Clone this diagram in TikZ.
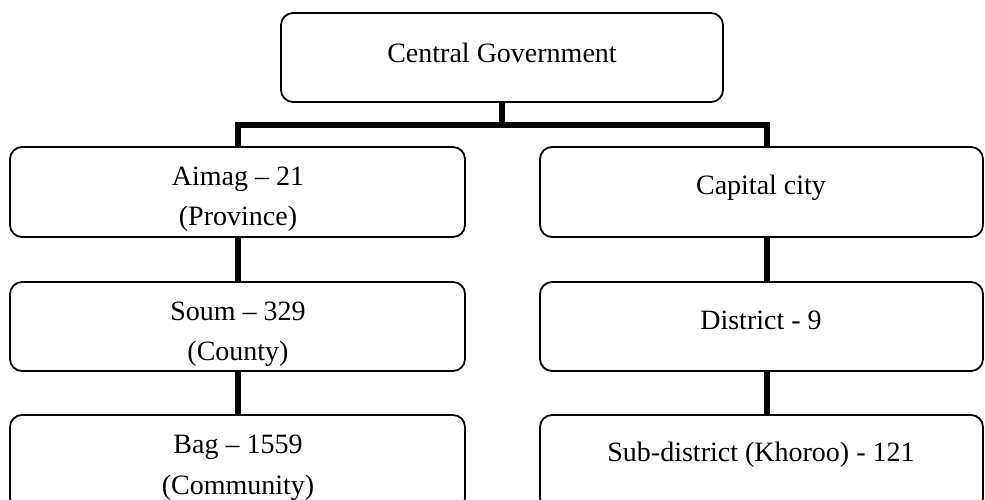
\documentclass[tikz,border=0pt]{standalone}
\usepackage{fontspec}
\setmainfont{Liberation Serif}
\begin{document}
\begin{tikzpicture}[x=1pt,y=-1pt,
  box/.style={draw=black,line width=1.8pt,rounded corners=12pt},
  lbl/.style={anchor=base,inner sep=0pt,font=\fontsize{28}{34}\selectfont},
  conn/.style={line width=5.5pt,line join=miter,line cap=butt}]
\useasboundingbox (0,0) rectangle (985,499);
\clip (0,0) rectangle (985,499);
% boxes
\path[box] (281,13) rectangle (723,102);
\coordinate (cgS) at (502,102);
\path[box] (10,147) rectangle (465,237);
\path[box] (10,282) rectangle (465,371);
\path[box] (10,415) rectangle (465,510);
\path[box] (540,147) rectangle (983,237);
\path[box] (540,282) rectangle (983,371);
\path[box] (540,415) rectangle (983,510);
% named anchor coordinates
\coordinate (aN) at (238,147);
\coordinate (aS) at (238,237);
\coordinate (sN) at (238,282);
\coordinate (sS) at (238,371);
\coordinate (bN) at (238,415);
\coordinate (cN) at (767,147);
\coordinate (cS) at (767,237);
\coordinate (dN) at (767,282);
\coordinate (dS) at (767,371);
\coordinate (eN) at (767,415);
\coordinate (bar) at (502,125);
% connectors
\draw[conn] (cgS) -- (bar);
\draw[conn] (aN) -- (aN |- bar) -- (cN |- bar) -- (cN);
\draw[conn] (aS) -- (sN);
\draw[conn] (sS) -- (bN);
\draw[conn] (cS) -- (dN);
\draw[conn] (dS) -- (eN);
% texts
\node[lbl] (tcg) at (502,62) {Central Government};
\node[lbl] (ta1) at (238,185) {Aimag – 21};
\node[lbl] (ta2) at (238,225) {(Province)};
\node[lbl] (ts1) at (238,320) {Soum – 329};
\node[lbl] (ts2) at (238,360) {(County)};
\node[lbl] (tb1) at (238,453) {Bag – 1559};
\node[lbl] (tb2) at (238,494) {(Community)};
\node[lbl] (tc) at (761,194) {Capital city};
\node[lbl] (td) at (761,329) {District - 9};
\node[lbl] (te) at (761,461) {Sub-district (Khoroo) - 121};
\end{tikzpicture}
\end{document}
